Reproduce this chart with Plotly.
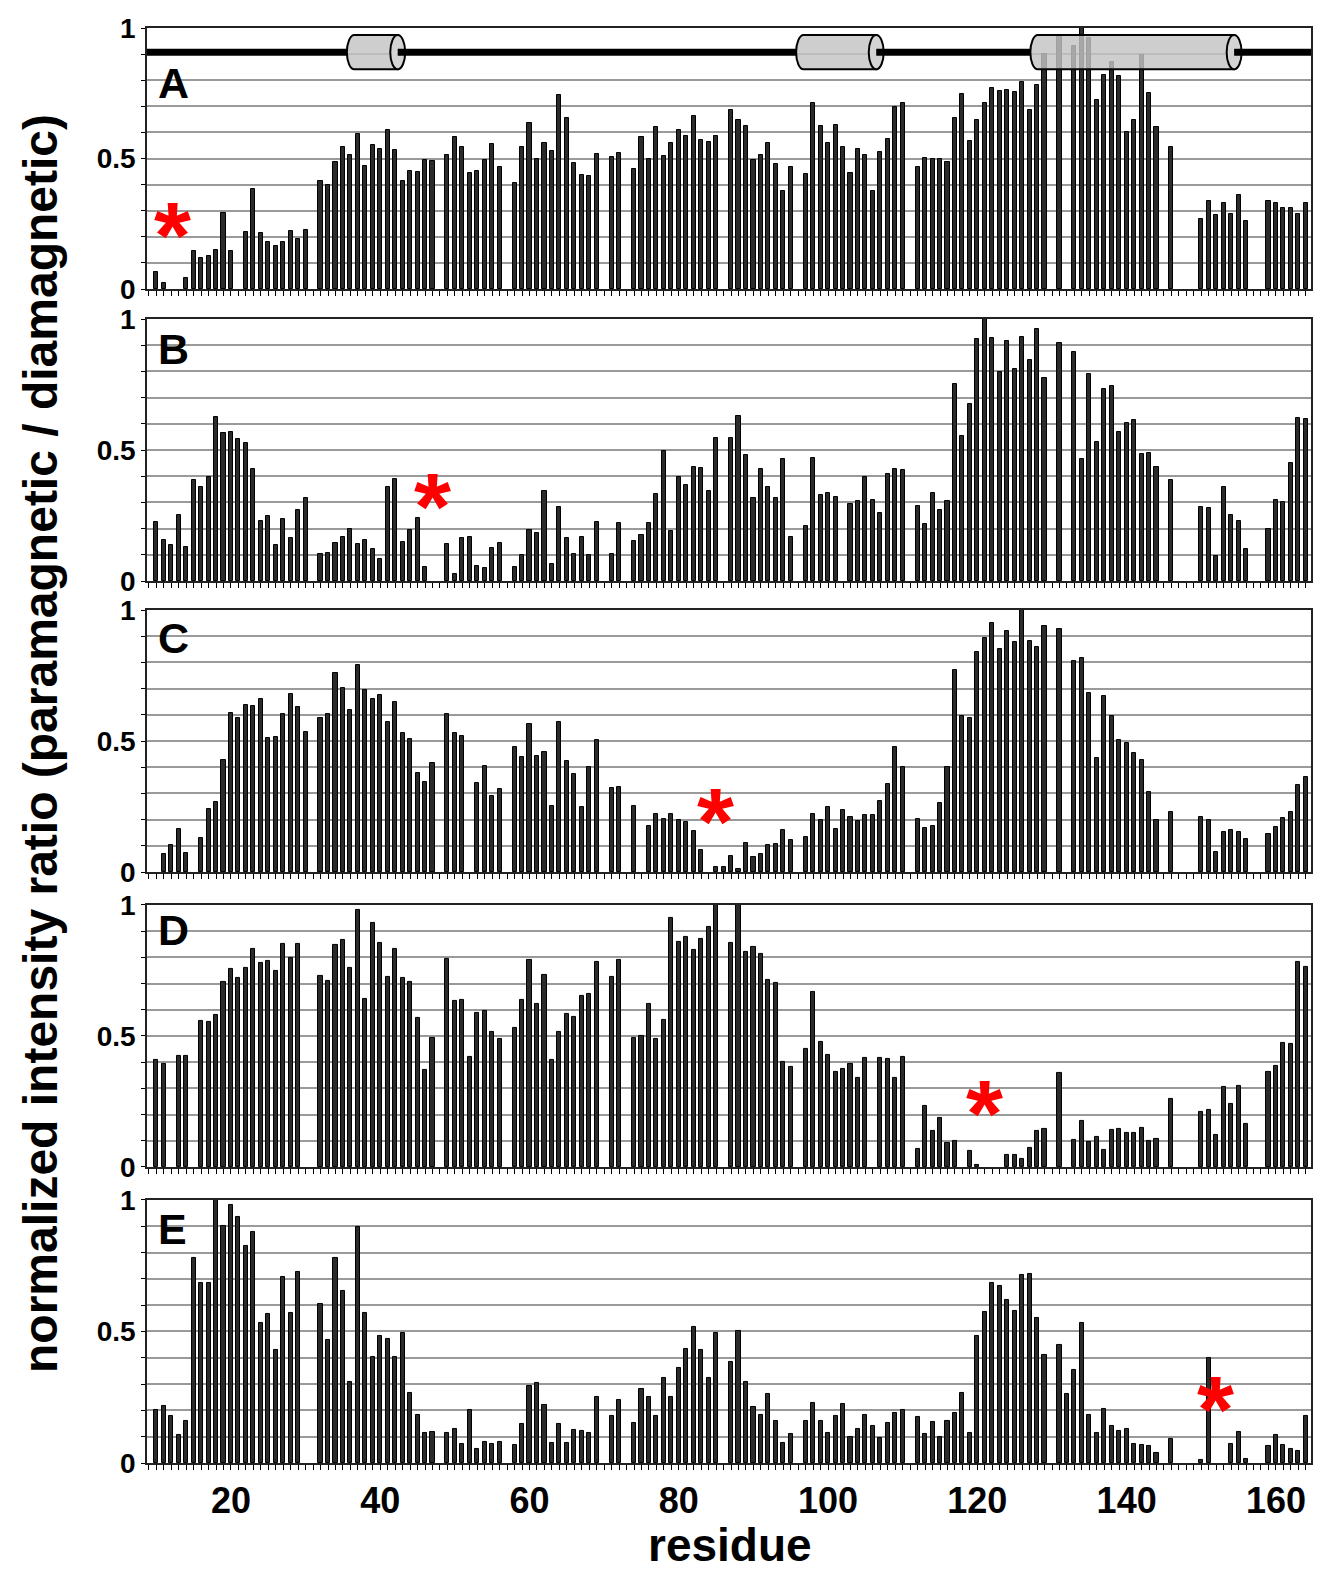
import plotly.graph_objects as go

# ---------------- data ----------------
res_A = [10, 11, *range(14, 21), *range(22, 31), *range(32, 48), *range(49, 57), *range(58, 70), 71, 72,
         *range(74, 86), *range(87, 96), *range(97, 111), *range(112, 130), 131, *range(133, 145), 146,
         *range(150, 157), *range(159, 165)]
ratio_A = [0.064, 0.025, 0.044, 0.145, 0.117, 0.125, 0.151, 0.29, 0.145,
           0.22, 0.384, 0.216, 0.182, 0.164, 0.179, 0.224, 0.19, 0.227,
           0.415, 0.40, 0.488, 0.545, 0.513, 0.593, 0.473, 0.551, 0.535, 0.609, 0.532, 0.414, 0.452, 0.449, 0.494, 0.49,
           0.513, 0.582, 0.543, 0.443, 0.452, 0.494, 0.555, 0.469,
           0.407, 0.544, 0.635, 0.50, 0.559, 0.53, 0.742, 0.656, 0.483, 0.438, 0.432, 0.517,
           0.506, 0.522,
           0.46, 0.582, 0.499, 0.62, 0.51, 0.559, 0.609, 0.587, 0.662, 0.571, 0.564, 0.586,
           0.685, 0.648, 0.625, 0.495, 0.515, 0.558, 0.48, 0.374, 0.466,
           0.442, 0.712, 0.625, 0.558, 0.629, 0.545, 0.443, 0.537, 0.513, 0.374, 0.526, 0.576, 0.698, 0.714,
           0.469, 0.503, 0.499, 0.499, 0.485, 0.656, 0.746, 0.568, 0.647, 0.712, 0.77, 0.757, 0.762, 0.755, 0.793,
           0.686, 0.78, 0.90,
           0.97,
           0.93, 1.0, 0.96, 0.723, 0.82, 0.87, 0.818, 0.602, 0.648, 0.898, 0.751, 0.62,
           0.544,
           0.268, 0.337, 0.283, 0.329, 0.288, 0.361, 0.26,
           0.337, 0.329, 0.311, 0.309, 0.288, 0.328]

res_B = [*range(10, 31), *range(32, 47), *range(49, 57), *range(58, 70), 71, 72, *range(74, 86), *range(87, 96),
         *range(97, 102), *range(103, 111), *range(112, 130), 131, *range(133, 145), 146, *range(150, 157),
         *range(159, 165)]
ratio_B = [0.225, 0.155, 0.139, 0.251, 0.131, 0.387, 0.358, 0.396, 0.625, 0.564, 0.568, 0.541, 0.525, 0.428, 0.228,
           0.25, 0.139, 0.236, 0.166, 0.27, 0.318,
           0.103, 0.108, 0.146, 0.167, 0.20, 0.143, 0.155, 0.124, 0.083, 0.358, 0.391, 0.148, 0.195, 0.242, 0.052,
           0.14, 0.027, 0.166, 0.169, 0.059, 0.048, 0.125, 0.146,
           0.052, 0.10, 0.195, 0.185, 0.345, 0.066, 0.284, 0.163, 0.103, 0.167, 0.10, 0.225,
           0.103, 0.223,
           0.153, 0.175, 0.223, 0.334, 0.498, 0.19, 0.396, 0.366, 0.437, 0.433, 0.345, 0.544,
           0.546, 0.628, 0.48, 0.315, 0.429, 0.358, 0.316, 0.465, 0.167,
           0.209, 0.471, 0.33, 0.336, 0.322,
           0.294, 0.304, 0.396, 0.311, 0.259, 0.409, 0.429, 0.425,
           0.287, 0.219, 0.336, 0.273, 0.307, 0.752, 0.555, 0.675, 0.924, 1.0, 0.926, 0.797, 0.915, 0.808, 0.932,
           0.842, 0.963, 0.775,
           0.908,
           0.874, 0.464, 0.789, 0.532, 0.732, 0.746, 0.567, 0.605, 0.613, 0.484, 0.49, 0.434,
           0.385,
           0.284, 0.28, 0.097, 0.357, 0.251, 0.231, 0.124,
           0.197, 0.308, 0.301, 0.452, 0.624, 0.617]

res_C = [*range(11, 15), *range(16, 31), *range(32, 48), 49, 50, 51, *range(53, 57), *range(58, 70), 71, 72, 74,
         *range(76, 84), *range(85, 96), *range(97, 111), *range(112, 130), 131, *range(133, 145), 146,
         *range(150, 157), *range(159, 165)]
ratio_C = [0.069, 0.102, 0.164, 0.071,
           0.13, 0.24, 0.266, 0.426, 0.608, 0.589, 0.639, 0.634, 0.659, 0.511, 0.514, 0.604, 0.678, 0.63, 0.533,
           0.588, 0.604, 0.76, 0.701, 0.618, 0.79, 0.693, 0.659, 0.674, 0.573, 0.649, 0.531, 0.508, 0.377, 0.345, 0.416,
           0.602, 0.531, 0.519,
           0.338, 0.405, 0.29, 0.317,
           0.477, 0.439, 0.565, 0.441, 0.458, 0.253, 0.571, 0.424, 0.373, 0.248, 0.402, 0.503,
           0.319, 0.323,
           0.251,
           0.174, 0.22, 0.204, 0.22, 0.198, 0.19, 0.156, 0.083,
           0.02, 0.02, 0.061, 0.01, 0.109, 0.058, 0.069, 0.102, 0.107, 0.159, 0.122,
           0.132, 0.22, 0.197, 0.249, 0.164, 0.238, 0.209, 0.195, 0.216, 0.216, 0.272, 0.335, 0.477, 0.40,
           0.204, 0.167, 0.174, 0.262, 0.402, 0.771, 0.597, 0.587, 0.838, 0.893, 0.949, 0.85, 0.92, 0.877, 1.0,
           0.88, 0.857, 0.938,
           0.926,
           0.804, 0.816, 0.682, 0.434, 0.673, 0.597, 0.505, 0.492, 0.453, 0.427, 0.304, 0.197,
           0.228,
           0.211, 0.197, 0.075, 0.151, 0.159, 0.154, 0.127,
           0.144, 0.172, 0.205, 0.229, 0.331, 0.363]

res_D = [10, 11, 13, 14, *range(16, 30), *range(32, 48), *range(49, 57), *range(58, 70), 71, 72, *range(74, 86),
         *range(87, 96), *range(97, 106), *range(107, 111), *range(112, 118), 119, 120, *range(124, 130), 131,
         *range(133, 145), 146, *range(150, 157), *range(159, 165)]
ratio_D = [0.409, 0.392, 0.423, 0.423,
           0.558, 0.555, 0.582, 0.706, 0.757, 0.721, 0.759, 0.832, 0.777, 0.786, 0.748, 0.852, 0.797, 0.851,
           0.729, 0.71, 0.847, 0.868, 0.761, 0.981, 0.641, 0.932, 0.854, 0.725, 0.832, 0.72, 0.706, 0.568, 0.369, 0.493,
           0.795, 0.632, 0.637, 0.42, 0.587, 0.595, 0.515, 0.487,
           0.531, 0.639, 0.791, 0.622, 0.734, 0.408, 0.515, 0.583, 0.573, 0.652, 0.66, 0.782,
           0.725, 0.791,
           0.493, 0.501, 0.623, 0.489, 0.561, 0.95, 0.859, 0.878, 0.828, 0.87, 0.917, 1.0,
           0.855, 1.0, 0.82, 0.839, 0.813, 0.713, 0.703, 0.40, 0.381,
           0.452, 0.669, 0.478, 0.427, 0.363, 0.373, 0.392, 0.34, 0.415,
           0.417, 0.411, 0.339, 0.42,
           0.068, 0.232, 0.136, 0.186, 0.09, 0.099,
           0.062, 0.006,
           0.045, 0.046, 0.031, 0.071, 0.139, 0.145,
           0.358,
           0.103, 0.175, 0.096, 0.113, 0.065, 0.14, 0.144, 0.131, 0.131, 0.148, 0.099, 0.106,
           0.261,
           0.209, 0.217, 0.122, 0.304, 0.239, 0.308, 0.163,
           0.362, 0.385, 0.473, 0.469, 0.782, 0.764]

res_E = [*range(10, 30), *range(32, 48), *range(49, 57), *range(58, 70), 71, 72, *range(74, 86), *range(87, 96),
         *range(97, 111), *range(112, 130), *range(131, 145), 146, 150, 151, 154, 155, 156, *range(159, 165)]
ratio_E = [0.203, 0.215, 0.178, 0.108, 0.161, 0.78, 0.686, 0.684, 1.0, 0.902, 0.982, 0.934, 0.825, 0.879, 0.532,
           0.567, 0.43, 0.706, 0.569, 0.728,
           0.605, 0.466, 0.778, 0.654, 0.309, 0.898, 0.569, 0.405, 0.482, 0.47, 0.405, 0.493, 0.268, 0.183, 0.114, 0.119,
           0.114, 0.128, 0.072, 0.203, 0.055, 0.081, 0.072, 0.08,
           0.067, 0.149, 0.294, 0.304, 0.222, 0.075, 0.15, 0.078, 0.126, 0.122, 0.116, 0.25,
           0.177, 0.238,
           0.154, 0.281, 0.252, 0.177, 0.323, 0.25, 0.36, 0.433, 0.516, 0.431, 0.323, 0.493,
           0.385, 0.502, 0.309, 0.212, 0.184, 0.264, 0.161, 0.075, 0.112,
           0.159, 0.23, 0.161, 0.114, 0.177, 0.225, 0.098, 0.128, 0.184, 0.14, 0.094, 0.154, 0.192, 0.20,
           0.174, 0.112, 0.156, 0.10, 0.161, 0.192, 0.267, 0.116, 0.482, 0.576, 0.686, 0.673, 0.62, 0.578, 0.715,
           0.718, 0.551, 0.409,
           0.447, 0.264, 0.353, 0.534, 0.184, 0.116, 0.207, 0.141, 0.121, 0.128, 0.072, 0.067, 0.065, 0.038,
           0.091,
           0.01, 0.398, 0.072, 0.119, 0.015,
           0.065, 0.108, 0.067, 0.055, 0.047, 0.177]

panel_labels = ["A", "B", "C", "D", "E"]
spin_label_res = [12.1, 47.0, 84.9, 120.9, 151.9]
spin_label_y = [0.29, 0.37, 0.28, 0.29, 0.29]

helix_start = [35.53, 95.72, 127.1]
helix_end = [43.34, 107.45, 155.4]

x_tick_vals = list(range(9, 165))
x_tick_text = [str(v) if v % 20 == 0 else "" for v in x_tick_vals]
y_tick_vals = [0, 0.1, 0.2, 0.3, 0.4, 0.5, 0.6, 0.7, 0.8, 0.9, 1.0]
y_tick_text = ["0", "", "", "", "", "0.5", "", "", "", "", "1"]

# ---------------- figure ----------------
FONT = "Liberation Sans, Arial, sans-serif"
X_RANGE = [8.75, 164.7]
domains = [[0.8181, 1.0], [0.6146, 0.7972], [0.4118, 0.5944], [0.2063, 0.3889], [0.0, 0.1833]]
letter_y = [0.79, 0.885, 0.895, 0.905, 0.89]

series = [(res_A, ratio_A), (res_B, ratio_B), (res_C, ratio_C), (res_D, ratio_D), (res_E, ratio_E)]

fig = go.Figure()
layout = {}
annotations = []
for i, (res, val) in enumerate(series):
    n = "" if i == 0 else str(i + 1)
    fig.add_trace(go.Bar(
        x=res, y=val, xaxis="x" + n, yaxis="y" + n, width=0.55,
        marker=dict(color="#2b2b2b", line=dict(color="black", width=1)),
        showlegend=False, hoverinfo="skip"))
    layout["xaxis" + n] = dict(
        domain=[0, 1], range=X_RANGE, anchor="y" + n, tickmode="array",
        tickvals=x_tick_vals, ticktext=x_tick_text, showticklabels=(i == 4),
        ticks="outside", ticklen=5, tickwidth=1, tickcolor="black",
        showline=True, mirror=True, linecolor="#222", linewidth=1.5,
        showgrid=False, zeroline=False, automargin=False, fixedrange=True,
        tickfont=dict(family=FONT, size=36, color="black", weight="bold"))
    layout["yaxis" + n] = dict(
        domain=domains[i], range=[0, 1], anchor="x" + n, tickmode="array",
        tickvals=y_tick_vals, ticktext=y_tick_text,
        ticks="outside", ticklen=4, tickwidth=1, tickcolor="black",
        showline=True, mirror=True, linecolor="#222", linewidth=1.5,
        showgrid=True, gridcolor="#9a9a9a", gridwidth=1.5,
        zeroline=False, automargin=False, fixedrange=True,
        tickfont=dict(family=FONT, size=28, color="black", weight="bold"))
    annotations.append(dict(
        x=9.9, y=letter_y[i], xref="x" + n, yref="y" + n, text=panel_labels[i],
        showarrow=False, xanchor="left", yanchor="middle",
        font=dict(family=FONT, size=43, color="black", weight="bold")))
    annotations.append(dict(
        x=spin_label_res[i], y=spin_label_y[i], xref="x" + n, yref="y" + n, text="*",
        showarrow=False, xanchor="center", yanchor="middle", yshift=-22,
        font=dict(family=FONT, size=95, color="#ff0000", weight="bold")))

annotations.append(dict(
    x=-0.092, y=0.5017, xref="paper", yref="paper",
    text="normalized intensity ratio (paramagnetic / diamagnetic)", textangle=-90,
    showarrow=False, xanchor="center", yanchor="middle",
    font=dict(family=FONT, size=48, color="black", weight="bold")))
annotations.append(dict(
    x=0.5009, y=-0.0765, xref="paper", yref="paper", text="residue",
    showarrow=False, xanchor="center", yanchor="bottom",
    font=dict(family=FONT, size=46, color="black", weight="bold")))

# ---------------- helix cartoon (panel A) ----------------
shapes = []
ytop, ybot, ymid = 0.973, 0.842, 0.907
a = 1.0
b = (ytop - ybot) / 2
k = 0.5523
for xs, xe in zip(helix_start, helix_end):
    xl = xs + a
    xr = xe - a
    path = (f"M {xl},{ytop} L {xr},{ytop} L {xr},{ybot} L {xl},{ybot} "
            f"C {xl - k * a},{ybot} {xs},{ymid - k * b} {xs},{ymid} "
            f"C {xs},{ymid + k * b} {xl - k * a},{ytop} {xl},{ytop} Z")
    shapes.append(dict(type="path", path=path, xref="x", yref="y",
                       fillcolor="rgba(195,195,195,0.82)", line=dict(color="black", width=2)))
    shapes.append(dict(type="circle", x0=xe - 2 * a, x1=xe, y0=ybot, y1=ytop, xref="x", yref="y",
                       fillcolor="#d4d4d4", line=dict(color="black", width=2)))
seg_start = [X_RANGE[0]] + [xe - a for xe in helix_end]
seg_end = helix_start + [X_RANGE[1]]
for s0, s1 in zip(seg_start, seg_end):
    shapes.append(dict(type="line", x0=s0, x1=s1, y0=ymid, y1=ymid, xref="x", yref="y",
                       line=dict(color="black", width=7)))

fig.update_layout(
    width=1317, height=1575,
    margin=dict(l=147, r=6, t=28, b=112, autoexpand=False),
    paper_bgcolor="white", plot_bgcolor="white",
    bargap=0, barmode="overlay",
    annotations=annotations, shapes=shapes,
    **layout)

fig.write_html("out.html")
